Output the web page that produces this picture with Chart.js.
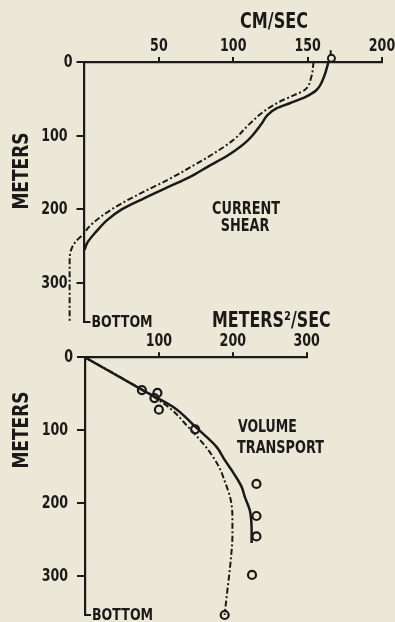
<!DOCTYPE html>
<html>
<head>
<meta charset="utf-8">
<script src="https://cdn.jsdelivr.net/npm/chart.js@4.4.1/dist/chart.umd.min.js"></script>
<style>
  html, body { margin: 0; padding: 0; background: #ece8d7; }
  #wrap { position: relative; width: 395px; height: 622px; overflow: hidden; background: #ece8d7; }
  #wrap canvas { position: absolute; left: 0; top: 0; }
</style>
</head>
<body>
<div id="wrap">
  <canvas id="shear" width="395" height="622"></canvas>
  <canvas id="transport" width="395" height="622"></canvas>
</div>
<script>
// ---- Current shear: speed (cm/sec) by depth (m) ----
const shearDepth      = [0, 20, 38, 47, 56, 63, 72, 84, 106, 126, 142, 156, 170, 185, 200, 215, 230, 245, 255];
const shearSpeed      = [164, 161, 156, 149, 138, 129, 123, 119, 110, 97, 83, 71, 56, 40, 25, 15, 8, 2, 0];
const shearAltDepth   = [0, 20, 38, 45, 54, 68, 84, 106, 124, 142, 160, 175, 192, 210, 225, 232, 244, 255, 270, 353];
const shearAltSpeed   = [154, 152.5, 148, 141, 131, 120, 111, 100, 87, 72, 56, 41, 25, 11, 2.5, 0, -6, -9, -10, -10];
const surfaceSpeed    = [166];
const surfaceDepth    = [-5];
const surfaceStemSpeed = [165.5, 165.5];
const surfaceStemDepth = [-9, -16];
const speedTicks      = [50, 100, 150, 200];

// ---- Volume transport: m^2/sec by depth (m) ----
const transportDepth     = [0, 45, 68, 97, 123, 141, 159, 178, 191, 210, 225, 240, 255];
const transportValue     = [0, 78, 119, 151, 178, 189, 201, 212, 216, 223, 225, 225.5, 225.5];
const transportAltDepth  = [0, 45, 70, 95, 125, 150, 170, 195, 220, 245, 270, 300, 330, 354];
const transportAltValue  = [0, 78, 115, 139, 165, 181, 189, 197, 199.5, 199.5, 198, 195, 191.5, 189];
const obsDepth           = [45, 49, 56, 72, 99, 174, 218, 246, 299, 354];
const obsValue           = [77, 98, 94, 100, 149, 232, 232, 232, 226, 189];
const transportTicks     = [100, 200, 300];

const depthTicks = [0, 100, 200, 300];
const shearBottom = 353;
const transportBottom = 354;

const INK = '#1b1a18';
const PAPER = '#ece8d7';
const FONT = "'DejaVu Sans Condensed','DejaVu Sans',sans-serif";

const pts = (xs, ys) => xs.map((x, i) => ({ x: x, y: ys[i] }));

// Lettering: bold, horizontally compressed like stencil lettering
function txt(ctx, s, x, y, size, align, rot, sx) {
  ctx.save();
  ctx.fillStyle = INK;
  ctx.font = 'bold ' + size + 'px ' + FONT;
  ctx.textAlign = align || 'center';
  ctx.textBaseline = 'middle';
  ctx.translate(x, y);
  if (rot) ctx.rotate(rot);
  ctx.scale(sx || 0.84, 1);
  ctx.fillText(s, 0, 0);
  ctx.restore();
}

// Tick labels for both axes, placed through the scales
function tickLabels(chart, xTicks) {
  const ctx = chart.ctx, xs = chart.scales.x, ys = chart.scales.y, a = chart.chartArea;
  xTicks.forEach(v => txt(ctx, String(v), xs.getPixelForValue(v), a.top - 16, 18, 'center', 0, 0.78));
  depthTicks.forEach(v => txt(ctx, String(v), a.left - (v === 0 ? 12 : 17), ys.getPixelForValue(v) + 0.5, 18, 'right', 0, 0.78));
}

// "BOTTOM" marker at the foot of the depth axis
function bottomMark(chart) {
  const ctx = chart.ctx, y = chart.scales.y, a = chart.chartArea;
  const py = y.getPixelForValue(y.max);
  ctx.save();
  ctx.strokeStyle = INK; ctx.lineWidth = 2;
  ctx.beginPath(); ctx.moveTo(a.left - 1, py); ctx.lineTo(a.left + 6, py); ctx.stroke();
  ctx.restore();
  txt(ctx, 'BOTTOM', a.left + 7, py + 1, 16.5, 'left', 0, 0.85);
}

function scaleOpts(min, max, ticks, reverse, fitKey, fitVal, pos, tickLen) {
  return {
    type: 'linear', position: pos, min: min, max: max, reverse: reverse,
    afterFit: s => { s[fitKey] = fitVal; },
    afterBuildTicks: s => { s.ticks = ticks.map(v => ({ value: v })); },
    grid: { drawOnChartArea: false, drawTicks: true, tickLength: tickLen, color: INK, lineWidth: 2 },
    border: { display: true, color: INK, width: 2.2 },
    ticks: { display: false }
  };
}

const common = {
  responsive: false, animation: false, indexAxis: 'y',
  plugins: { legend: { display: false }, tooltip: { enabled: false } },
  elements: { point: { radius: 0 }, line: { cubicInterpolationMode: 'monotone' } }
};

new Chart(document.getElementById('shear'), {
  type: 'line',
  data: {
    datasets: [
      { data: pts(shearSpeed, shearDepth), borderColor: INK, borderWidth: 2.5, clip: false },
      { data: pts(shearAltSpeed, shearAltDepth), borderColor: INK, borderWidth: 2, borderDash: [6, 2.5, 2, 2.5], clip: false },
      { data: pts(surfaceStemSpeed, surfaceStemDepth), borderColor: INK, borderWidth: 2, clip: false },
      { data: pts(surfaceSpeed, surfaceDepth), showLine: false, pointRadius: 3.5, pointBorderWidth: 2,
        pointBorderColor: INK, pointBackgroundColor: PAPER, clip: false }
    ]
  },
  options: Object.assign({}, common, {
    layout: { padding: { left: 0, top: 0, right: 13, bottom: 300 } },
    scales: {
      x: scaleOpts(0, 200, speedTicks, false, 'height', 62, 'top', 5),
      y: scaleOpts(0, shearBottom, depthTicks, true, 'width', 84.5, 'left', 8)
    }
  }),
  plugins: [{
    id: 'shearText',
    afterDraw(chart) {
      const ctx = chart.ctx;
      tickLabels(chart, speedTicks);
      txt(ctx, 'CM/SEC', 274, 23, 21, 'center', 0, 0.85);
      txt(ctx, 'METERS', 22, 171, 22, 'center', -Math.PI / 2, 0.86);
      txt(ctx, 'CURRENT', 246, 210, 17, 'center', 0, 0.84);
      txt(ctx, 'SHEAR', 245, 227, 17, 'center', 0, 0.84);
      bottomMark(chart);
    }
  }]
});

new Chart(document.getElementById('transport'), {
  type: 'line',
  data: {
    datasets: [
      { data: pts(transportValue, transportDepth), borderColor: INK, borderWidth: 2.5, clip: false },
      { data: pts(transportAltValue, transportAltDepth), borderColor: INK, borderWidth: 2, borderDash: [6, 2.5, 2, 2.5], clip: false },
      { data: pts(obsValue, obsDepth), showLine: false, pointRadius: 4, pointBorderWidth: 2.2,
        pointBorderColor: INK, pointBackgroundColor: PAPER, clip: false },
      { data: pts(obsValue, obsDepth), showLine: false, pointRadius: 1.2, pointBorderWidth: 0,
        pointBackgroundColor: INK, clip: false }
    ]
  },
  options: Object.assign({}, common, {
    layout: { padding: { left: 0, top: 307.3, right: 88.3, bottom: 7 } },
    scales: {
      x: scaleOpts(0, 300, transportTicks, false, 'height', 50, 'top', 5),
      y: scaleOpts(0, transportBottom, depthTicks, true, 'width', 85, 'left', 8)
    }
  }),
  plugins: [{
    id: 'transportText',
    afterDraw(chart) {
      const ctx = chart.ctx;
      tickLabels(chart, transportTicks);
      txt(ctx, 'METERS\u00B2/SEC', 212, 322, 21, 'left', 0, 0.84);
      txt(ctx, 'METERS', 22, 430, 22, 'center', -Math.PI / 2, 0.86);
      txt(ctx, 'VOLUME', 238, 428, 17, 'left', 0, 0.82);
      txt(ctx, 'TRANSPORT', 237, 449, 17, 'left', 0, 0.84);
      bottomMark(chart);
    }
  }]
});
</script>
</body>
</html>
